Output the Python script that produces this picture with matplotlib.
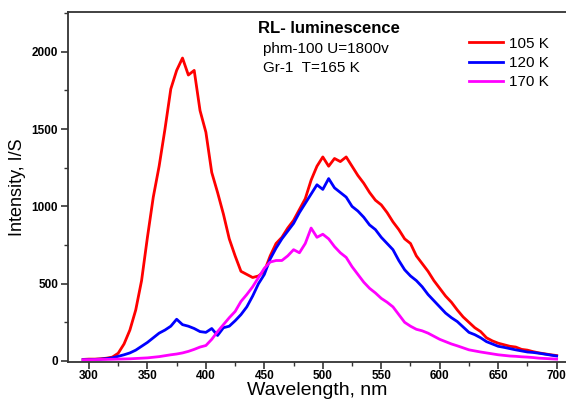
import numpy as np
import matplotlib
matplotlib.use("Agg")
import matplotlib.pyplot as plt
from matplotlib.ticker import MultipleLocator

plt.rcParams['font.family'] = ['Liberation Sans', 'DejaVu Sans']

# wavelength grid, nm
wl = np.arange(295, 701, 5)

# spectra (I/S)
red_105 = [10, 12, 12, 14, 18, 25, 50, 110, 200, 330,
           520, 800, 1060, 1260, 1500, 1760, 1880, 1960, 1850, 1880,
           1620, 1480, 1220, 1090, 950, 790, 680, 580, 560, 540,
           550, 580, 680, 760, 800, 860, 910, 980, 1050, 1170,
           1260, 1320, 1260, 1310, 1290, 1320, 1260, 1200, 1150, 1090,
           1040, 1010, 960, 900, 850, 790, 760, 680, 630, 580,
           520, 470, 420, 380, 330, 285, 250, 215, 190, 150,
           130, 115, 105, 95, 90, 75, 70, 60, 52, 46,
           40, 35]
blue_120 = [8, 8, 10, 12, 15, 20, 30, 40, 52, 70,
            95, 120, 150, 180, 200, 225, 270, 235, 225, 210,
            190, 185, 210, 165, 215, 225, 260, 300, 350, 420,
            500, 560, 660, 730, 790, 840, 890, 960, 1020, 1080,
            1140, 1110, 1180, 1120, 1090, 1060, 1000, 970, 930, 880,
            850, 800, 760, 720, 650, 590, 550, 520, 480, 430,
            390, 350, 310, 280, 255, 220, 185, 170, 150, 125,
            110, 95, 88, 80, 72, 65, 58, 55, 50, 44,
            38, 32]
mag_170 = [8, 8, 9, 10, 10, 11, 12, 13, 14, 16,
           18, 20, 24, 28, 34, 40, 45, 52, 62, 75,
           90, 100, 140, 190, 235, 280, 320, 385, 430, 480,
           540, 600, 640, 650, 650, 680, 720, 700, 760, 860,
           800, 820, 790, 740, 700, 670, 610, 560, 510, 470,
           440, 405, 380, 350, 300, 250, 225, 205, 195, 180,
           160, 140, 125, 110, 98, 85, 72, 65, 58, 52,
           46, 40, 36, 32, 30, 27, 25, 22, 18, 16,
           14, 12]

fig = plt.figure(figsize=(5.66, 3.99), dpi=100)
ax = fig.add_axes([0.120, 0.093, 0.880, 0.877])

ax.plot(wl, red_105, color='#ff0000', lw=2, label='105 K')
ax.plot(wl, blue_120, color='#0000ff', lw=2, label='120 K')
ax.plot(wl, mag_170, color='#ff00ff', lw=2, label='170 K')

ax.set_xlim(282, 708)
ax.set_ylim(-6, 2258)
ax.xaxis.set_major_locator(MultipleLocator(50))
ax.xaxis.set_minor_locator(MultipleLocator(25))
ax.yaxis.set_major_locator(MultipleLocator(500))
ax.yaxis.set_minor_locator(MultipleLocator(250))
ax.tick_params(which='major', direction='out', length=5, width=1.2, color='#333333')
ax.tick_params(which='minor', direction='out', length=3, width=1.0, color='#333333')
ax.tick_params(axis='x', labelsize=8.5, pad=0.8)
ax.tick_params(axis='y', labelsize=8.5, pad=2)
for lab in ax.get_xticklabels() + ax.get_yticklabels():
    lab.set_fontweight('bold')

ax.spines['right'].set_visible(False)
for s in ['left', 'bottom', 'top']:
    ax.spines[s].set_linewidth(1.3)
    ax.spines[s].set_color('#333333')

ax.set_xlabel('Wavelength, nm', fontsize=14, labelpad=0)
ax.set_ylabel('Intensity, I/S', fontsize=13, labelpad=4)

ax.text(0.381, 0.975, 'RL- luminescence', transform=ax.transAxes,
        fontsize=12, fontweight='bold', va='top', ha='left')
ax.text(0.391, 0.915, 'phm-100 U=1800v', transform=ax.transAxes,
        fontsize=11, va='top', ha='left')
ax.text(0.391, 0.86, 'Gr-1  T=165 K', transform=ax.transAxes,
        fontsize=11, va='top', ha='left')

ax.legend(loc='upper right', bbox_to_anchor=(0.987, 0.96), frameon=False,
          fontsize=11, handlelength=2.2, handletextpad=0.4,
          labelspacing=0.35, borderaxespad=0.3)

fig.savefig('out.png', dpi=100)
